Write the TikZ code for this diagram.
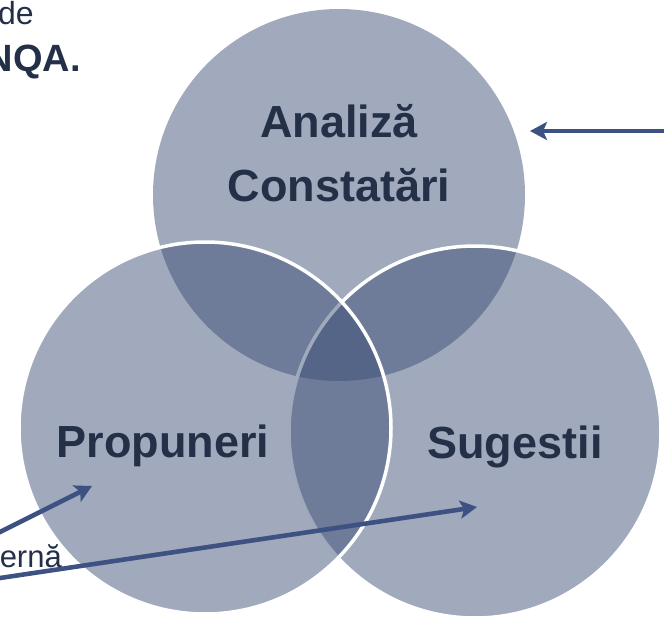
\documentclass[tikz,border=0pt]{standalone}
\usepackage{fontspec}
\setmainfont{Liberation Sans}
\usetikzlibrary{positioning,arrows.meta}
\definecolor{vennfill}{HTML}{374A72}
\definecolor{labeltext}{HTML}{243048}
\definecolor{arrowblue}{HTML}{3D5283}
\tikzset{
venn/.style={circle, minimum size=372pt, inner sep=0pt, fill=vennfill, fill opacity=0.47}, % plain circle
ring/.style={venn, draw=white, draw opacity=1, line width=3.5pt}, % circle with white rim
lbl/.style={font=\fontsize{45}{64}\selectfont\bfseries, text=labeltext, align=center, inner sep=0pt},
side/.style={font=\fontsize{32}{38}\selectfont, text=labeltext, inner sep=0pt, anchor=base east},
pointer/.style={draw=arrowblue, line width=4.5pt, -{Stealth[length=17pt,width=18pt,inset=4pt]}},
pointershade/.style={pointer, draw=black, draw opacity=0.12, fill opacity=0.12, shift={(2pt,-2.5pt)}},
}

\begin{document}
\begin{tikzpicture}[x=1pt,y=-1pt,on grid]
   \useasboundingbox (0,0) rectangle (664,618);
   \node[venn] (analiza) at (339,195) {};
   \node[ring] (sugestii) [below right=237pt and 136pt of analiza] {};
   \node[ring] (propuneri) [below left=233pt and 134pt of analiza] {};
   \node[lbl] (t_analiza) [above=42pt of analiza] {Analiză\\Constatări};
   \node[lbl] (t_propuneri) [below left=18pt and 42pt of propuneri] {Propuneri};
   \node[lbl] (t_sugestii) [below right=15pt and 40pt of sugestii] {Sugestii};
   \node[side] (t_de) at (34,25) {de};
   \node[side, font=\fontsize{38}{44}\selectfont\bfseries] (t_nqa) at (81,71) {NQA.};
   \node[side, font=\fontsize{31}{36}\selectfont] (t_erna) at (62,567) {ernă};
   \coordinate (from_a) at (672,131);
   \coordinate (to_a) at (530,131);
   \coordinate (from_p) at (-10,537);
   \coordinate (to_p) at (92,486);
   \coordinate (from_s) at (-10,579.5);
   \coordinate (to_s) at (477,507);
   % soft shadow first, then the arrows
   \draw[pointershade] (from_a) -- (to_a);
   \draw[pointershade] (from_p) -- (to_p);
   \draw[pointershade] (from_s) -- (to_s);
   \draw[pointer] (from_a) -- (to_a);
   \draw[pointer] (from_p) -- (to_p);
   \draw[pointer] (from_s) -- (to_s);
\end{tikzpicture}
\end{document}
